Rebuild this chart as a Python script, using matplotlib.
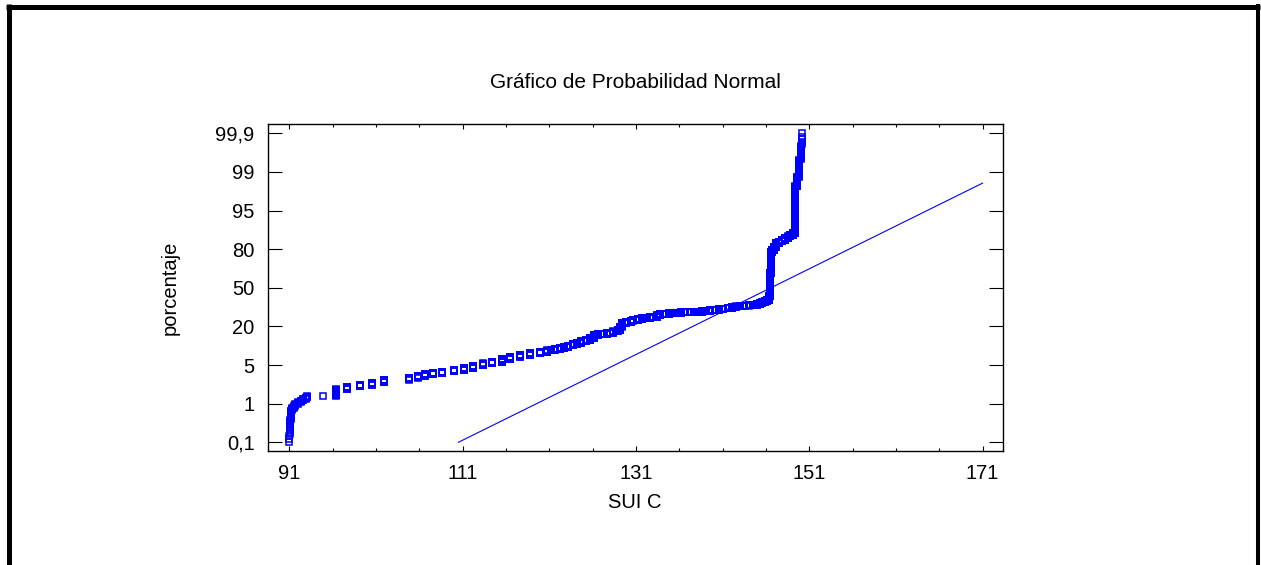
from statistics import NormalDist

import numpy as np
import matplotlib
matplotlib.use("Agg")
import matplotlib.pyplot as plt
from matplotlib.lines import Line2D
from matplotlib.ticker import MultipleLocator, FixedLocator, NullFormatter

plt.rcParams['font.family'] = ['Liberation Sans', 'DejaVu Sans']

# ---- text -------------------------------------------------------------
title = "Gráfico de Probabilidad Normal"
x_label = "SUI C"
y_label = "porcentaje"
pct_labels = ["0,1", "1", "5", "20", "50", "80", "95", "99", "99,9"]

# ---- sample: distinct SUI C values and how many times each occurs ------
sui_values = [
    91.0, 91.1, 91.2, 91.3, 91.5, 91.7, 92.0, 92.3, 92.6, 92.9, 93.0, 94.9,
    96.4, 97.6, 99.2, 100.5, 101.9, 104.8, 105.9, 106.7, 107.6, 108.6, 110.0,
    111.1, 112.2, 113.3, 114.4, 115.5, 116.5, 117.6, 118.8, 119.9, 120.7,
    121.2, 121.7, 122.2, 122.7, 123.2, 123.7, 124.2, 124.7, 125.2, 125.7,
    126.1, 126.6, 127.1, 127.6, 128.0, 128.4, 128.9, 129.2, 129.4, 129.9,
    130.4, 130.7, 131.2, 131.7, 132.2, 132.6, 133.0, 133.4, 133.8, 134.3,
    134.8, 135.3, 135.7, 136.2, 136.7, 137.2, 137.7, 138.2, 138.6, 139.1,
    139.6, 140.1, 140.6, 141.1, 141.6, 142.1, 142.6, 143.0, 143.5, 144.0,
    144.5, 145.0, 145.3, 145.6, 145.9, 146.1, 146.3, 146.5, 146.6, 146.7,
    146.9, 147.2, 147.5, 147.8, 148.2, 148.5, 148.8, 149.1, 149.3, 149.4,
    149.6, 149.8, 150.0, 150.2,
]
sui_counts = [
    6, 10, 12, 4, 4, 4, 4, 4, 4, 4, 4, 1,
    23, 12, 8, 12, 16, 12, 12, 12, 8, 12, 12,
    16, 24, 20, 16, 32, 28, 20, 24, 16, 24,
    12, 12, 12, 20, 20, 24, 24, 24, 28, 40,
    56, 12, 12, 12, 12, 24, 32, 80, 80, 40,
    28, 16, 20, 20, 20, 16, 12, 32, 32, 12,
    12, 12, 8, 8, 4, 8, 4, 4, 12, 16,
    16, 16, 12, 20, 20, 20, 20, 16, 12, 12,
    16, 20, 20, 32, 40, 32, 120, 720, 596, 48,
    72, 80, 36, 36, 32, 32, 32, 28, 56, 408,
    32, 32, 12, 8,
]

# fitted normal reference line
fit_mean = 146.57
fit_sd = 11.67
line_x_end = 171.0

# ---- figure -----------------------------------------------------------
W, H = 1261, 565
fig = plt.figure(figsize=(W / 100, H / 100), dpi=100)
fig.patch.set_facecolor("white")

ax = fig.add_axes([267.7 / W, 1 - 451 / H, (1002.5 - 267.7) / W, 327 / H])

nd = NormalDist()
sample = np.repeat(np.array(sui_values), np.array(sui_counts))
n = sample.size
probs = np.arange(1, n + 1) / (n + 1)
# only the 0.1 % .. 99.9 % band of the probability scale is shown
shown = (probs >= 0.001) & (probs <= 0.999)
zscores = np.array([nd.inv_cdf(p) for p in probs[shown]])

ax.plot(sample[shown], zscores, linestyle="none", marker="s",
        markersize=4.2, markerfacecolor="none", markeredgecolor="#0000ff",
        markeredgewidth=1.1, zorder=3)

z_edge = nd.inv_cdf(0.999)
z_line = np.array([-z_edge, (line_x_end - fit_mean) / fit_sd])
ax.plot(fit_mean + fit_sd * z_line, z_line, color="#0000ff", linewidth=0.8,
        zorder=2)

# axes ranges and ticks
ax.set_xlim(88.5, 173.3)
ax.set_ylim(-3.264, 3.276)

ax.xaxis.set_major_locator(MultipleLocator(20, offset=11))
ax.xaxis.set_minor_locator(MultipleLocator(5, offset=1))
ax.xaxis.set_minor_formatter(NullFormatter())

yticks = np.linspace(-z_edge, z_edge, len(pct_labels))
ax.yaxis.set_major_locator(FixedLocator(yticks))
ax.set_yticklabels(pct_labels)

ax.tick_params(axis="x", which="major", direction="in", length=3.5,
               width=0.8, top=True, bottom=True, labelsize=14.5, pad=9.5)
ax.tick_params(axis="x", which="minor", direction="in", length=2,
               width=0.8, top=True, bottom=True)
ax.tick_params(axis="y", which="major", direction="in", length=10,
               width=0.8, left=True, right=True, labelsize=14.5, pad=9.4)

for sp in ax.spines.values():
    sp.set_linewidth(1.0)
    sp.set_color("black")

ax.set_xlabel(x_label, fontsize=14.5, va="center")
ax.xaxis.set_label_coords(0.5, (451 - 503) / 327)
ax.set_ylabel(y_label, fontsize=14.5, va="center")
ax.yaxis.set_label_coords((170 - 267.7) / 734.8, 0.5)

fig.text((267.7 + 1002.5) / 2 / W, 1 - 83 / H, title, fontsize=15,
         ha="center", va="center")

# outer frame
fig.add_artist(Line2D([8.5 / W, 8.5 / W], [-0.01, 1 - 4 / H],
                      transform=fig.transFigure, color="black",
                      linewidth=3.6, solid_capstyle="butt"))
fig.add_artist(Line2D([6 / W, 1260 / W], [1 - 6.5 / H, 1 - 6.5 / H],
                      transform=fig.transFigure, color="black",
                      linewidth=3.6, solid_capstyle="butt"))
fig.add_artist(Line2D([1258 / W, 1258 / W], [-0.01, 1 - 4 / H],
                      transform=fig.transFigure, color="black",
                      linewidth=2.9, solid_capstyle="butt"))

fig.savefig("out.png", dpi=100, facecolor="white")
